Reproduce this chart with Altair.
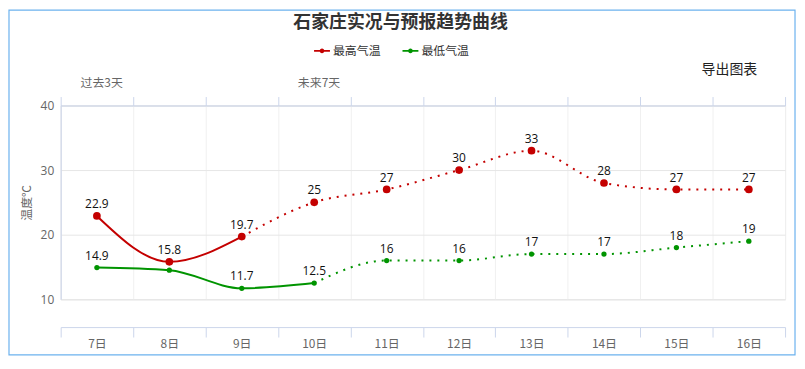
import altair as alt
import pandas as pd

# ---- data ----
days = ['7日', '8日', '9日', '10日', '11日', '12日', '13日', '14日', '15日', '16日']
high_values = [22.9, 15.8, 19.7, 25, 27, 30, 33, 28, 27, 27]
low_values = [14.9, 14.5, 11.7, 12.5, 16, 16, 17, 17, 18, 19]
high_actual_days = 3      # observed days for max temperature (solid)
low_actual_days = 4       # observed days for min temperature (solid)
hidden_labels = [('最低气温', '8日')]  # label hidden by overlap in reference
series_names = ['最高气温', '最低气温']
series_colors = ['#c40000', '#009400']
period_labels = ['过去3天', '未来7天']
period_starts = [0, 3]
title_text = '石家庄实况与预报趋势曲线'
export_text = '导出图表'
y_title = '温度℃'
y_ticks = [10, 20, 30, 40]

CJK = 'Noto Sans CJK SC'

# ---- tables ----
rows_pts = []
rows_lines = []
for name, vals, n_act in [(series_names[0], high_values, high_actual_days),
                          (series_names[1], low_values, low_actual_days)]:
    for i, (d, v) in enumerate(zip(days, vals)):
        lab = '' if (name, d) in hidden_labels else f'{v:g}'
        rows_pts.append({'series': name, 'day': d, 'pos': i + 0.5, 'value': v, 'label': lab})
        if i < n_act:
            rows_lines.append({'series': name, 'seg': 'actual', 'pos': i + 0.5, 'value': v})
        if i >= n_act - 1:
            rows_lines.append({'series': name, 'seg': 'forecast', 'pos': i + 0.5, 'value': v})
pts = pd.DataFrame(rows_pts)
lines = pd.DataFrame(rows_lines)
periods = pd.DataFrame({'label': period_labels, 'start': period_starts})

xscale = alt.Scale(domain=[0, len(days)], nice=False, zero=False)
yscale = alt.Scale(domain=[10, 40], nice=False, zero=False)
cscale = alt.Scale(domain=series_names, range=series_colors)

label_arr = '[' + ','.join(f"'{d}'" for d in days) + ']'
tick_vals = list(range(len(days) + 1))

bottom_axis = alt.Axis(orient='bottom', values=tick_vals, offset=28, tickSize=10,
                       tickColor='#ccd6eb', domainColor='#ccd6eb', grid=False,
                       labelExpr=f"datum.value < {len(days)} ? {label_arr}[datum.value] : ''",
                       labelOffset=36.45, labelFlush=False, labelOverlap=False,
                       labelColor='#666666', labelFontSize=12, labelFont=CJK,
                       labelPadding=2, title=None)
top_axis = alt.Axis(orient='top', values=tick_vals, offset=0, tickSize=9, tickColor='#ccd6eb',
                    domainColor='#ccd6eb', labels=False, grid=True, gridColor='#f0f0f0',
                    title=None)
y_axis = alt.Axis(orient='left', values=y_ticks, grid=True, gridColor='#e6e6e6', domain=True,
                  domainColor='#ccd6eb', ticks=False, labelPadding=7, offset=0,
                  labelColor='#666666', labelFontSize=12, labelFont='Open Sans',
                  title=y_title, titleColor='#666666', titleFontSize=12,
                  titleFont=CJK, titleFontWeight='normal', titlePadding=7)

legend_path = ('M-1,-0.12L1,-0.12L1,0.12L-1,0.12Z'
               'M-0.3,0A0.3,0.3 0 1,1 0.3,0A0.3,0.3 0 1,1 -0.3,0Z')

solid = alt.Chart(lines[lines.seg == 'actual']).mark_line(
    interpolate='monotone', strokeWidth=2).encode(
    x=alt.X('pos:Q', scale=xscale, axis=bottom_axis),
    y=alt.Y('value:Q', scale=yscale, axis=y_axis),
    color=alt.Color('series:N', scale=cscale, legend=None),
    detail='series:N')

dotted = alt.Chart(lines[lines.seg == 'forecast']).mark_line(
    interpolate='monotone', strokeWidth=2, strokeDash=[2, 6]).encode(
    x=alt.X('pos:Q', scale=xscale, axis=top_axis),
    y=alt.Y('value:Q', scale=yscale, axis=None),
    color=alt.Color('series:N', scale=cscale, legend=None),
    detail='series:N')

points_high = alt.Chart(pts[pts.series == series_names[0]]).mark_point(
    filled=True, opacity=1, size=60).encode(
    x=alt.X('pos:Q', scale=xscale, axis=None),
    y=alt.Y('value:Q', scale=yscale, axis=None),
    color=alt.Color('series:N', scale=cscale, legend=alt.Legend(
        orient='none', legendX=255, legendY=-63, direction='horizontal', title=None,
        symbolType=legend_path, symbolSize=256, symbolStrokeWidth=0, symbolOpacity=1,
        labelFontSize=12, labelColor='#333333', labelFont=CJK, labelOffset=3,
        columnPadding=21, padding=0)))

points_low = alt.Chart(pts[pts.series == series_names[1]]).mark_point(
    filled=True, opacity=1, size=28).encode(
    x=alt.X('pos:Q', scale=xscale, axis=None),
    y=alt.Y('value:Q', scale=yscale, axis=None),
    color=alt.Color('series:N', scale=cscale, legend=None))

labels = alt.Chart(pts).mark_text(baseline='bottom', dy=-5, fontSize=12, font='Open Sans',
                                  color='#111111').encode(
    x=alt.X('pos:Q', scale=xscale, axis=None),
    y=alt.Y('value:Q', scale=yscale, axis=None),
    text='label:N')

period_text = alt.Chart(periods).mark_text(align='left', baseline='middle', dx=20,
                                           fontSize=12, font=CJK, color='#666666').encode(
    x=alt.X('start:Q', scale=xscale, axis=None),
    y=alt.value(-23),
    text='label:N')

title_mark = alt.Chart(pd.DataFrame({'t': [title_text]})).mark_text(
    align='center', baseline='middle', fontSize=18, fontWeight='bold', font=CJK,
    color='#333333').encode(x=alt.value(342), y=alt.value(-83), text='t:N')

export_mark = alt.Chart(pd.DataFrame({'t': [export_text]})).mark_text(
    align='center', baseline='middle', fontSize=14, font=CJK,
    color='#222222').encode(x=alt.value(673), y=alt.value(-36), text='t:N')

border = alt.Chart(pd.DataFrame({'t': [0]})).mark_rect(
    fill='transparent', stroke='#6cb2ee', strokeWidth=1.2).encode(
    x=alt.value(-52), x2=alt.value(739), y=alt.value(-96), y2=alt.value(251))

chart = alt.layer(border, solid, dotted, points_high, points_low, labels, period_text,
                  title_mark, export_mark).resolve_axis(
    x='independent', y='independent').resolve_legend(color='independent').properties(
    width=729, height=195,
    autosize=alt.AutoSizeParams(type='none'),
    padding={'left': 53, 'top': 97, 'right': 12, 'bottom': 57},
).configure_view(stroke=None).configure(background='white')

chart.save('out.html', embed_options={'renderer': 'svg', 'actions': False})
